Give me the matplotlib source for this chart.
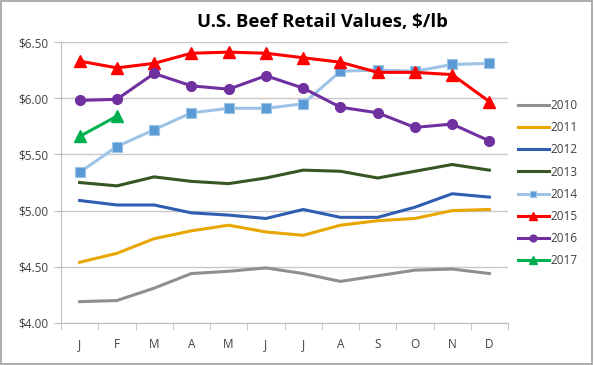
import matplotlib
matplotlib.use("Agg")
import matplotlib.pyplot as plt
from matplotlib.patches import Rectangle

months = ["J", "F", "M", "A", "M", "J", "J", "A", "S", "O", "N", "D"]
y2010 = [4.19, 4.20, 4.31, 4.44, 4.46, 4.49, 4.44, 4.37, 4.42, 4.47, 4.48, 4.44]
y2011 = [4.54, 4.62, 4.75, 4.82, 4.87, 4.81, 4.78, 4.87, 4.91, 4.93, 5.00, 5.01]
y2012 = [5.09, 5.05, 5.05, 4.98, 4.96, 4.93, 5.01, 4.94, 4.94, 5.03, 5.15, 5.12]
y2013 = [5.25, 5.22, 5.30, 5.26, 5.24, 5.29, 5.36, 5.35, 5.29, 5.35, 5.41, 5.36]
y2014 = [5.34, 5.57, 5.72, 5.87, 5.91, 5.91, 5.95, 6.24, 6.25, 6.24, 6.30, 6.31]
y2015 = [6.33, 6.27, 6.31, 6.40, 6.41, 6.40, 6.36, 6.32, 6.23, 6.23, 6.21, 5.97]
y2016 = [5.98, 5.99, 6.22, 6.11, 6.08, 6.20, 6.09, 5.92, 5.87, 5.74, 5.77, 5.62]
y2017 = [5.66, 5.84]
yticks = [4.00, 4.50, 5.00, 5.50, 6.00, 6.50]

plt.rcParams['font.family'] = ['Open Sans', 'DejaVu Sans']

fig = plt.figure(figsize=(5.94, 3.65), dpi=100)
W, H = 594, 365
ax = fig.add_axes([61 / W, 1 - 323 / H, (508 - 61) / W, (323 - 42) / H])

x = list(range(12))
lw = 2.2
ax.plot(x, y2010, color="#8F8F8F", lw=lw, label="2010")
ax.plot(x, y2011, color="#E8A700", lw=lw, label="2011")
ax.plot(x, y2012, color="#2F5DB0", lw=lw, label="2012")
ax.plot(x, y2013, color="#375623", lw=lw, label="2013")
ax.plot(x, y2014, color="#9DC3E6", lw=lw, marker="s", ms=6.5,
        mfc="#5B9BD5", mec="#9DC3E6", mew=0.8, label="2014")
ax.plot(x, y2015, color="#FF0000", lw=lw, marker="^", ms=8,
        mfc="#FF0000", mec="#FF0000", label="2015")
ax.plot(x, y2016, color="#7030A0", lw=lw, marker="o", ms=7,
        mfc="#7030A0", mec="#7030A0", label="2016")
ax.plot(x[:len(y2017)], y2017, color="#00B050", lw=lw, marker="^", ms=8,
        mfc="#00B050", mec="#00B050", label="2017")

ax.set_xlim(-0.5, 11.5)
ax.set_ylim(4.0, 6.5)
ax.set_yticks(yticks)
ax.set_yticklabels([f"${v:.2f}" for v in yticks], fontsize=8.5, color="#404040")
ax.set_xticks(x)
ax.set_xticklabels(months, fontsize=8.5, color="#404040")
ax.set_xticks([i - 0.5 for i in range(13)], minor=True)
ax.tick_params(axis="x", which="major", length=0, pad=11)
ax.tick_params(axis="x", which="minor", length=5, color="#BFBFBF", direction="out")
ax.tick_params(axis="y", length=5, color="#BFBFBF", direction="out", pad=4)
ax.grid(axis="y", color="#C8C8C8", lw=1)
ax.set_axisbelow(True)
for s in ["top", "right"]:
    ax.spines[s].set_visible(False)
ax.spines["left"].set_color("#BFBFBF")
ax.spines["bottom"].set_color("#BFBFBF")

fig.text(322 / W, 1 - 22 / H, "U.S. Beef Retail Values, $/lb", ha="center", va="center",
         fontsize=13.3, fontweight="bold", color="black")

leg = fig.legend(loc="upper left", bbox_to_anchor=(518 / W, 1 - 99 / H), frameon=False,
                 fontsize=8.5, labelspacing=0.78, handlelength=2.6, handletextpad=0.15,
                 borderaxespad=0, borderpad=0, markerscale=0.7)
for t in leg.get_texts():
    t.set_color("#404040")

fig.patches.append(Rectangle((0.002, 0.003), 0.995, 0.994, transform=fig.transFigure,
                             fill=False, edgecolor="#A0A0A0", lw=1.2))

fig.savefig("out.png", dpi=100)
